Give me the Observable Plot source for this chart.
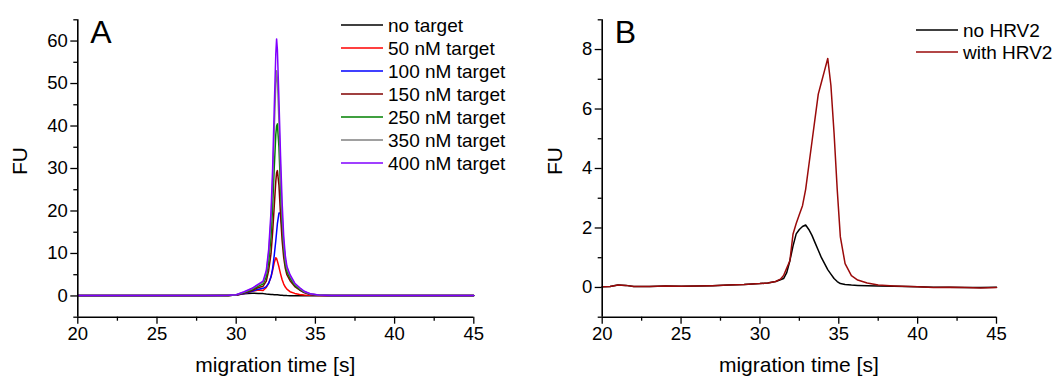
<!DOCTYPE html>
<html>
<head>
<meta charset="utf-8">
<script src="https://cdn.jsdelivr.net/npm/d3@7"></script>
<script src="https://cdn.jsdelivr.net/npm/@observablehq/plot@0.6"></script>
<style>
  body { margin: 0; background: #fff; }
  #wrap { position: relative; width: 1062px; height: 379px; overflow: hidden; background:#fff; }
  .panel { position: absolute; top: 0; }
</style>
</head>
<body>
<div id="wrap">
  <div id="pA" class="panel" style="left:0px"></div>
  <div id="pB" class="panel" style="left:531px"></div>
</div>
<script>
// ---------- Panel A data ----------
const tA = [20, 22, 24, 26, 28, 29, 29.5, 30, 30.5, 31, 31.4, 31.7, 31.9, 32.05, 32.2, 32.3, 32.4, 32.5, 32.55, 32.6, 32.7, 32.8, 32.9, 33.0, 33.1, 33.2, 33.4, 33.7, 34.0, 34.3, 34.7, 35.2, 36, 38, 40, 42, 45];
const seriesA = ["no target", "50 nM target", "100 nM target", "150 nM target", "250 nM target", "350 nM target", "400 nM target"];
const colorsA = ["#000000", "#ff0000", "#0000ff", "#800000", "#008000", "#808080", "#8000ff"];
const noTarget = [0.05, 0.05, 0.05, 0.05, 0.05, 0.08, 0.1, 0.2, 0.5, 0.65, 0.6, 0.55, 0.45, 0.4, 0.35, 0.33, 0.31, 0.3, 0.28, 0.26, 0.22, 0.18, 0.15, 0.12, 0.1, 0.08, 0.07, 0.05, 0.05, 0.05, 0.05, 0.05, 0.05, 0.05, 0.05, 0.05, 0.05];
const t50 = [0.1, 0.1, 0.1, 0.1, 0.1, 0.1, 0.12, 0.2, 0.6, 1.1, 1.4, 1.3, 2.0, 3.0, 4.5, 6.0, 7.8, 9.0, 8.8, 8.2, 6.8, 5.2, 3.8, 2.8, 2.1, 1.6, 1.0, 0.6, 0.35, 0.2, 0.15, 0.1, 0.1, 0.1, 0.1, 0.1, 0.1];
const t100 = [0.1, 0.1, 0.1, 0.1, 0.1, 0.1, 0.12, 0.2, 0.6, 1.1, 1.6, 1.8, 2.2, 3.0, 4.5, 6.5, 9.5, 13, 15, 17, 19.5, 19.5, 16, 12, 8.5, 6.5, 4.2, 2.5, 1.5, 0.8, 0.35, 0.15, 0.1, 0.1, 0.1, 0.1, 0.1];
const t150 = [0.1, 0.1, 0.1, 0.1, 0.1, 0.1, 0.12, 0.2, 0.7, 1.3, 2.0, 2.3, 3.5, 6, 10, 15, 21, 27, 29, 29.5, 26, 19, 13, 9, 6.5, 5, 3.6, 2.2, 1.4, 0.8, 0.35, 0.15, 0.1, 0.1, 0.1, 0.1, 0.1];
const t250 = [0.1, 0.1, 0.1, 0.1, 0.1, 0.1, 0.13, 0.25, 0.8, 1.5, 2.3, 2.8, 4.5, 8, 14, 21, 30, 38, 40, 40.5, 35, 25, 17, 11, 7.5, 5.8, 4.2, 2.5, 1.6, 0.9, 0.4, 0.2, 0.1, 0.1, 0.1, 0.1, 0.1];
const t350 = [0.1, 0.1, 0.1, 0.1, 0.1, 0.1, 0.14, 0.3, 0.9, 1.7, 2.6, 3.2, 5.5, 10, 18, 27, 39, 50, 53, 51, 41, 29, 19, 12.5, 8.5, 6.5, 4.7, 2.8, 1.8, 1.0, 0.45, 0.2, 0.1, 0.1, 0.1, 0.1, 0.1];
const t400 = [0.1, 0.1, 0.1, 0.1, 0.1, 0.1, 0.15, 0.3, 1.0, 1.8, 2.8, 3.5, 6, 11, 20, 30, 44, 57, 60.5, 58, 46, 33, 22, 14, 9.5, 7, 5, 3, 2, 1.1, 0.5, 0.25, 0.1, 0.1, 0.1, 0.1, 0.1];
const valuesA = [noTarget, t50, t100, t150, t250, t350, t400];

// ---------- Panel B data ----------
const tB = [20, 20.5, 21, 21.5, 22, 23, 24, 25, 26, 27, 28, 29, 29.5, 30, 30.5, 31, 31.3, 31.5, 31.7, 31.9, 32.1, 32.3, 32.5, 32.7, 32.9, 33.1, 33.3, 33.5, 33.7, 33.9, 34.1, 34.3, 34.5, 34.7, 34.9, 35.1, 35.4, 35.8, 36.2, 36.8, 37.5, 38.5, 40, 41, 42, 43, 44, 45];
const seriesB = ["no HRV2", "with HRV2"];
const colorsB = ["#000000", "#9a0a0a"];
const noHRV2 = [0.02, 0.03, 0.08, 0.07, 0.03, 0.03, 0.05, 0.04, 0.05, 0.06, 0.08, 0.1, 0.12, 0.13, 0.15, 0.2, 0.26, 0.3, 0.5, 0.9, 1.4, 1.8, 1.95, 2.05, 2.1, 1.95, 1.75, 1.5, 1.25, 1.0, 0.8, 0.6, 0.45, 0.3, 0.2, 0.13, 0.1, 0.08, 0.07, 0.06, 0.05, 0.04, 0.02, 0.01, 0.01, 0.0, 0.0, 0.01];
const withHRV2 = [0.02, 0.03, 0.08, 0.07, 0.03, 0.03, 0.05, 0.04, 0.05, 0.06, 0.08, 0.1, 0.12, 0.13, 0.15, 0.2, 0.28, 0.4, 0.65, 0.9, 1.8, 2.15, 2.45, 2.75, 3.3, 4.1, 4.9, 5.7, 6.5, 6.9, 7.3, 7.7, 6.8, 5.2, 3.3, 1.7, 0.8, 0.4, 0.25, 0.15, 0.08, 0.05, 0.02, 0.0, 0.01, 0.0, -0.02, 0.0];
const valuesB = [noHRV2, withHRV2];

// ---------- ticks ----------
const xMajor = [20, 25, 30, 35, 40, 45];
const xMinor = [22.5, 27.5, 32.5, 37.5, 42.5];
const yMajorA = [0, 10, 20, 30, 40, 50, 60];
const yMinorA = [-5, 5, 15, 25, 35, 45, 55, 65];
const yMajorB = [0, 2, 4, 6, 8];
const yMinorB = [-1, 1, 3, 5, 7, 9];

const FONT = "'Liberation Sans', Arial, Helvetica, sans-serif";

function panel({el, width, mL, mR, yDomain, yMajor, yMinor, series, colors, times, values, letter, fuOffset, legendX, legendRows}) {
  const lineMarks = series.map((s, i) =>
    Plot.line(times.map((t, j) => ({t, v: values[i][j]})), {x: "t", y: "v", stroke: colors[i], strokeWidth: 1.5})
  );
  const chart = Plot.plot({
    width, height: 379,
    marginLeft: mL, marginRight: mR, marginTop: 19.3, marginBottom: 62.3,
    style: {fontFamily: FONT, fontSize: "18.5px", color: "#000", background: "transparent", overflow: "visible"},
    x: {domain: [20, 45]},
    y: {domain: yDomain},
    marks: [
      Plot.axisX({ticks: xMajor, tickSize: 7, tickPadding: 3, tickFormat: d => String(d), label: null, strokeWidth: 1.3}),
      Plot.axisX({ticks: xMinor, tickSize: 4, tickFormat: () => "", label: null, strokeWidth: 1.3}),
      Plot.axisY({ticks: yMajor, tickSize: 7, tickPadding: 3, tickFormat: d => String(d), label: null, strokeWidth: 1.3}),
      Plot.axisY({ticks: yMinor, tickSize: 4, tickFormat: () => "", label: null, strokeWidth: 1.3}),
      ...lineMarks,
      Plot.ruleX([20], {stroke: "#000", strokeWidth: 1.6}),
      Plot.ruleY([yDomain[0]], {stroke: "#000", strokeWidth: 1.6})
    ]
  });
  document.getElementById(el).appendChild(chart);
  const svg = d3.select(chart);
  const x0 = mL, x1 = width - mR;
  // axis titles
  svg.append("text").attr("x", (x0 + x1) / 2).attr("y", 372).attr("text-anchor", "middle")
    .style("font-family", FONT).style("font-size", "21px").text("migration time [s]");
  svg.append("text").attr("transform", `translate(${mL - fuOffset},161) rotate(-90)`).attr("text-anchor", "middle")
    .attr("dy", "0.35em").style("font-family", FONT).style("font-size", "21px").text("FU");
  // panel letter
  svg.append("text").attr("x", mL + 13).attr("y", 43).attr("text-anchor", "start")
    .style("font-family", FONT).style("font-size", "32px").text(letter);
  // legend
  series.forEach((s, i) => {
    const y = legendRows[0] + i * legendRows[1];
    svg.append("line").attr("x1", legendX).attr("x2", legendX + 42).attr("y1", y).attr("y2", y)
      .attr("stroke", colors[i]).attr("stroke-width", 1.6);
    svg.append("text").attr("x", legendX + 47).attr("y", y).attr("dy", "0.35em").attr("text-anchor", "start")
      .style("font-family", FONT).style("font-size", "19px").text(s);
  });
}

panel({el: "pA", width: 531, mL: 77.3, mR: 57.7, yDomain: [-5, 65], yMajor: yMajorA, yMinor: yMinorA,
  series: seriesA, colors: colorsA, times: tA, values: valuesA, letter: "A", fuOffset: 58, legendX: 341, legendRows: [25, 23]});
panel({el: "pB", width: 531, mL: 70.7, mR: 66, yDomain: [-1, 9], yMajor: yMajorB, yMinor: yMinorB,
  series: seriesB, colors: colorsB, times: tB, values: valuesB, letter: "B", fuOffset: 47, legendX: 385, legendRows: [30, 22]});
</script>
</body>
</html>
